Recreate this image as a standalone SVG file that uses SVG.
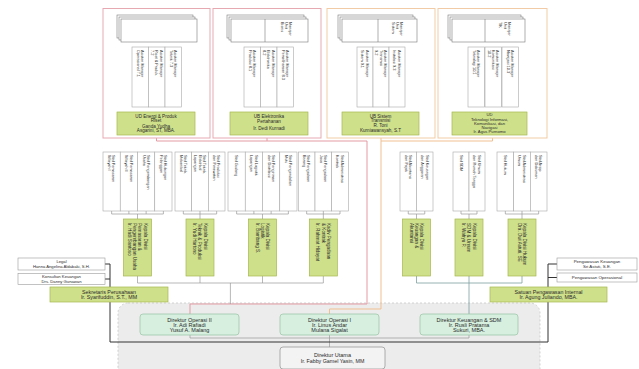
<svg xmlns="http://www.w3.org/2000/svg" width="639" height="369" viewBox="0 0 639 369">
<style>
text{font-family:"Liberation Sans",Arial,sans-serif;fill:#2a2a2a}
.h{text-anchor:middle}
.v{font-size:3.8px}
.vg{font-size:4.6px}
.pk{fill:#fff;stroke:#e7a9b1;stroke-width:1}
.pc{fill:#fff;stroke:#f1cba5;stroke-width:1}
.doc{fill:#fff;stroke:#7a7a7a;stroke-width:0.6}
.sb{fill:#fff;stroke:#a9a9a9;stroke-width:0.6}
.gb{fill:#cfe08a;stroke:#a3b84e;stroke-width:0.7}
.mb{fill:#d6efdf;stroke:#9fc8aa;stroke-width:0.8}
.ub{fill:#f3f3f3;stroke:#9a9a9a;stroke-width:0.8}
.st{fill:#fff;stroke:#9a9a9a;stroke-width:0.6}
.ln{fill:none;stroke:#9a9a9a;stroke-width:0.7}
.lt{fill:none;stroke:#7f9f9f;stroke-width:0.8}
.lp{fill:none;stroke:#e39aa3;stroke-width:1}
.lo{fill:none;stroke:#f0bf92;stroke-width:1}
.ld{fill:none;stroke:#333;stroke-width:1}
</style>
<rect id="area" x="118" y="303" width="422" height="80" rx="10" fill="#ececec" stroke="#c8c8c8" stroke-width="0.8" stroke-dasharray="2 2"/>
<g id="connectors">
<path class="lp" d="M156.5 138V141H367V304H190V314M267 138V141"/>
<path class="lo" d="M381 138V309H329.5V314M492.5 138V141H381"/>
<path class="ln" d="M157 42V44.5M140.25 44.5H173.25M140.25 44.5V47M156.75 44.5V47M173.25 44.5V47M140.25 107V109.5H173.25V107M156.75 109.5V112"/>
<path class="ln" d="M269.5 42V44.5M252.25 44.5H285.25M252.25 44.5V47M268.75 44.5V47M285.25 44.5V47M252.25 107V109.5H285.25V107M268.75 109.5V112"/>
<path class="ln" d="M379.5 42V44.5M365 44.5H397M365 44.5V47M381 44.5V47M397 44.5V47M365 107V109.5H397V107M381 109.5V112"/>
<path class="ln" d="M488.5 42V44.5M476.25 44.5H510.25M476.25 44.5V47M493.25 44.5V47M510.25 44.5V47M476.25 107V109.5H510.25V107M493.25 109.5V112"/>
<path class="ln" d="M111.63 211V214H163.38V211M128.88 211V214M146.13 211V214M137.5 214V219"/>
<path class="ln" d="M183.33 211V214H216.67V211M200 211V219"/>
<path class="ln" d="M236.63 211V214H288.38V211M253.88 211V214M271.13 211V214M262.5 214V219"/>
<path class="ln" d="M306.67 211V214H340V211M323.33 211V219"/>
<path class="ln" d="M408.25 211V214H424.75V211M416.5 214V219"/>
<path class="ln" d="M461 211V214H477V211M469 214V219"/>
<path class="ln" d="M505.33 211V214H538.67V211M522 211V219"/>
<path class="ln" d="M137.5 276V283H323.33V276M200 276V283M262.5 276V283M230.4 283V304"/>
<path class="lt" d="M416.5 276V283H522V276M469 276V314"/>
<path class="ln" d="M190 335V338H469V335M329.5 335V347"/>
<path class="ld" d="M105 264H110V342H548V264H557M105 279H110M548 277.5H557"/>
</g>
<g id="unit-energi">
<rect class="pk" x="103" y="8.5" width="107" height="129.5"/>
<rect class="doc" x="117" y="15" width="76" height="23"/><rect class="doc" x="119" y="17" width="76" height="23"/><rect class="doc" x="121" y="19" width="76" height="23"/>
<rect class="sb" x="132" y="47" width="16.5" height="60"/><rect class="sb" x="148.5" y="47" width="16.5" height="60"/><rect class="sb" x="165" y="47" width="16.5" height="60"/>
<text class="v" transform="translate(141.03,50) rotate(90)"><tspan x="0" y="0">Asisten Manajer</tspan><tspan x="0" y="4.3">Operasional 7.1</tspan></text>
<text class="v" transform="translate(159.68,50) rotate(90)"><tspan x="0" y="0">Asisten Manajer</tspan><tspan x="0" y="4.3">Riset &amp; Produk</tspan><tspan x="0" y="8.6">7.2</tspan></text>
<text class="v" transform="translate(174.03,50) rotate(90)"><tspan x="0" y="0">Asisten Manajer</tspan><tspan x="0" y="4.3">Teknik 7.3</tspan></text>
<rect class="gb" x="117" y="112" width="78" height="23"/>
<text class="h" font-size="4.6" x="156" y="117.8">UD Energi &amp; Produk</text>
<text class="h" font-size="4.6" x="156" y="122.3">Riset</text>
<text class="h" font-size="4.6" x="156" y="127.6">Ganda Yudha</text>
<text class="h" font-size="4.6" x="156" y="132.1">Asgarini, ST, MBA.</text>
</g>
<g id="unit-elektronika">
<rect class="pk" x="213" y="8.5" width="108" height="129.5"/>
<rect class="doc" x="227" y="15" width="77" height="23"/><rect class="doc" x="229" y="17" width="77" height="23"/><rect class="doc" x="231" y="19" width="77" height="23"/>
<line class="doc" x1="265" y1="19" x2="265" y2="42"/>
<text class="v" transform="translate(289.43,22) rotate(90)"><tspan x="0" y="0">Manajer</tspan><tspan x="0" y="4.3">Unit</tspan><tspan x="0" y="8.6">Bisnis</tspan></text>
<rect class="sb" x="244" y="47" width="16.5" height="60"/><rect class="sb" x="260.5" y="47" width="16.5" height="60"/><rect class="sb" x="277" y="47" width="16.5" height="60"/>
<text class="v" transform="translate(253.03,50) rotate(90)"><tspan x="0" y="0">Asisten Manajer</tspan><tspan x="0" y="4.3">Produksi 8.1</tspan></text>
<text class="v" transform="translate(271.68,50) rotate(90)"><tspan x="0" y="0">Asisten Manajer</tspan><tspan x="0" y="4.3">Elektronika</tspan><tspan x="0" y="8.6">8.2</tspan></text>
<text class="v" transform="translate(286.03,50) rotate(90)"><tspan x="0" y="0">Asisten Manajer</tspan><tspan x="0" y="4.3">Pemeliharaan 8.3</tspan></text>
<rect class="gb" x="230" y="112" width="78" height="23"/>
<text class="h" font-size="4.6" x="269" y="118.3">UB Elektronika</text>
<text class="h" font-size="4.6" x="269" y="122.8">Pertahanan</text>
<text class="h" font-size="4.6" x="269" y="130.3">Ir. Dedi Kurnadi</text>
</g>
<g id="unit-sistem">
<rect class="pc" x="327" y="8.5" width="108" height="129.5"/>
<rect class="doc" x="338" y="15" width="75" height="23"/><rect class="doc" x="340" y="17" width="75" height="23"/><rect class="doc" x="342" y="19" width="75" height="23"/>
<line class="doc" x1="378" y1="19" x2="378" y2="42"/>
<text class="v" transform="translate(400.43,22) rotate(90)"><tspan x="0" y="0">Manajer</tspan><tspan x="0" y="4.3">Unit</tspan><tspan x="0" y="8.6">Sistem</tspan></text>
<rect class="sb" x="357" y="47" width="16" height="60"/><rect class="sb" x="373" y="47" width="16" height="60"/><rect class="sb" x="389" y="47" width="16" height="60"/>
<text class="v" transform="translate(365.78,50) rotate(90)"><tspan x="0" y="0">Asisten Manajer</tspan><tspan x="0" y="4.3">Sistem 9.1</tspan></text>
<text class="v" transform="translate(383.93,50) rotate(90)"><tspan x="0" y="0">Asisten Manajer</tspan><tspan x="0" y="4.3">Transmisi</tspan><tspan x="0" y="8.6">9.2</tspan></text>
<text class="v" transform="translate(397.78,50) rotate(90)"><tspan x="0" y="0">Asisten Manajer</tspan><tspan x="0" y="4.3">Instalasi 9.3</tspan></text>
<rect class="gb" x="342" y="112" width="77" height="23"/>
<text class="h" font-size="4.6" x="380.5" y="117.6">UB Sistem</text>
<text class="h" font-size="4.6" x="380.5" y="122.1">Transmisi</text>
<text class="h" font-size="4.6" x="380.5" y="127.4">R. Toni</text>
<text class="h" font-size="4.6" x="380.5" y="131.9">Kurniawansyah, S.T</text>
</g>
<g id="unit-teknologi">
<rect class="pc" x="438" y="8.5" width="109" height="129.5"/>
<rect class="doc" x="448" y="15" width="73" height="23"/><rect class="doc" x="450" y="17" width="73" height="23"/><rect class="doc" x="452" y="19" width="73" height="23"/>
<line class="doc" x1="485" y1="19" x2="485" y2="42"/>
<text class="v" transform="translate(507.93,22) rotate(90)"><tspan x="0" y="0">Manajer</tspan><tspan x="0" y="4.3">Unit</tspan><tspan x="0" y="8.6">TIK</tspan></text>
<rect class="sb" x="468" y="47" width="16.5" height="60"/><rect class="sb" x="485" y="47" width="16.5" height="60"/><rect class="sb" x="502" y="47" width="16.5" height="60"/>
<text class="v" transform="translate(477.03,50) rotate(90)"><tspan x="0" y="0">Asisten Manajer</tspan><tspan x="0" y="4.3">Teknologi 10.1</tspan></text>
<text class="v" transform="translate(496.18,50) rotate(90)"><tspan x="0" y="0">Asisten Manajer</tspan><tspan x="0" y="4.3">Komunikasi</tspan><tspan x="0" y="8.6">10.2</tspan></text>
<text class="v" transform="translate(511.03,50) rotate(90)"><tspan x="0" y="0">Asisten Manajer</tspan><tspan x="0" y="4.3">Navigasi 10.3</tspan></text>
<rect class="gb" x="452" y="112" width="75" height="23"/>
<text class="h" font-size="4.2" x="489.5" y="116.4">UD</text>
<text class="h" font-size="4.2" x="489.5" y="120.5">Teknologi Informasi,</text>
<text class="h" font-size="4.2" x="489.5" y="124.6">Komunikasi, dan</text>
<text class="h" font-size="4.2" x="489.5" y="128.7">Navigasi</text>
<text class="h" font-size="4.2" x="489.5" y="133.2">Ir. Agus Purnomo</text>
</g>
<g id="divisi-pemasaran">
<rect class="sb" x="103" y="152" width="17.25" height="59"/><rect class="sb" x="120.25" y="152" width="17.25" height="59"/><rect class="sb" x="137.5" y="152" width="17.25" height="59"/><rect class="sb" x="154.75" y="152" width="17.25" height="59"/>
<text class="v" transform="translate(112.41,155) rotate(90)"><tspan x="0" y="0">Staf Pemasaran</tspan><tspan x="0" y="4.3">Wilayah I</tspan></text>
<text class="v" transform="translate(129.66,155) rotate(90)"><tspan x="0" y="0">Staf Pemasaran</tspan><tspan x="0" y="4.3">Wilayah II</tspan></text>
<text class="v" transform="translate(146.91,155) rotate(90)"><tspan x="0" y="0">Staf Pengembangan</tspan><tspan x="0" y="4.3">Usaha</tspan></text>
<text class="v" transform="translate(164.16,155) rotate(90)"><tspan x="0" y="0">Staf Hubungan</tspan><tspan x="0" y="4.3">Pelanggan</tspan></text>
<rect class="gb" x="123.5" y="219" width="28" height="57"/>
<text class="vg" transform="translate(143.65,223) rotate(90)"><tspan x="0" y="0">Kepala Divisi</tspan><tspan x="0" y="5.2">Pemasaran &amp;</tspan><tspan x="0" y="10.4">Pengembangan Usaha</tspan><tspan x="0" y="15.6">Ir. Hadi Santoso</tspan></text>
</g>
<g id="divisi-teknik">
<rect class="sb" x="175" y="152" width="16.67" height="59"/><rect class="sb" x="191.67" y="152" width="16.67" height="59"/><rect class="sb" x="208.33" y="152" width="16.67" height="59"/>
<text class="v" transform="translate(184.11,155) rotate(90)"><tspan x="0" y="0">Staf Teknik</tspan><tspan x="0" y="4.3">Mekanikal</tspan></text>
<text class="v" transform="translate(202.93,155) rotate(90)"><tspan x="0" y="0">Staf Teknik</tspan><tspan x="0" y="4.3">Elektrikal</tspan><tspan x="0" y="8.6">Lapangan</tspan></text>
<text class="v" transform="translate(217.45,155) rotate(90)"><tspan x="0" y="0">Staf Produksi</tspan><tspan x="0" y="4.3">dan Perawatan</tspan></text>
<rect class="gb" x="186" y="219" width="28" height="57"/>
<text class="vg" transform="translate(203.55,223) rotate(90)"><tspan x="0" y="0">Kepala Divisi</tspan><tspan x="0" y="5.2">Teknik &amp; Produksi</tspan><tspan x="0" y="10.4">Ir. Yudi Hartono</tspan></text>
</g>
<g id="divisi-logistik">
<rect class="sb" x="228" y="152" width="17.25" height="59"/><rect class="sb" x="245.25" y="152" width="17.25" height="59"/><rect class="sb" x="262.5" y="152" width="17.25" height="59"/><rect class="sb" x="279.75" y="152" width="17.25" height="59"/>
<text class="v" transform="translate(235.26,155) rotate(90)"><tspan x="0" y="0">Staf Gudang</tspan></text>
<text class="v" transform="translate(254.66,155) rotate(90)"><tspan x="0" y="0">Staf Logistik</tspan><tspan x="0" y="4.3">Lapangan</tspan></text>
<text class="v" transform="translate(271.91,155) rotate(90)"><tspan x="0" y="0">Staf Pengiriman</tspan><tspan x="0" y="4.3">dan Distribusi</tspan></text>
<text class="v" transform="translate(289.16,155) rotate(90)"><tspan x="0" y="0">Staf Pengendalian</tspan><tspan x="0" y="4.3">Mutu</tspan></text>
<rect class="gb" x="248.5" y="219" width="28" height="57"/>
<text class="vg" transform="translate(266.05,223) rotate(90)"><tspan x="0" y="0">Kepala Divisi</tspan><tspan x="0" y="5.2">Logistik</tspan><tspan x="0" y="10.4">Ir. Bambang S.</tspan></text>
</g>
<g id="divisi-pengadaan">
<rect class="sb" x="298.33" y="152" width="16.67" height="59"/><rect class="sb" x="315" y="152" width="16.67" height="59"/><rect class="sb" x="331.67" y="152" width="16.67" height="59"/>
<text class="v" transform="translate(307.45,155) rotate(90)"><tspan x="0" y="0">Staf Pengadaan</tspan><tspan x="0" y="4.3">Barang</tspan></text>
<text class="v" transform="translate(324.11,155) rotate(90)"><tspan x="0" y="0">Staf Pengadaan</tspan><tspan x="0" y="4.3">Jasa</tspan></text>
<text class="v" transform="translate(340.78,155) rotate(90)"><tspan x="0" y="0">Staf Administrasi</tspan><tspan x="0" y="4.3">Kontrak</tspan></text>
<rect class="gb" x="309.33" y="219" width="28" height="57"/>
<text class="vg" transform="translate(326.88,223) rotate(90)"><tspan x="0" y="0">Kadiv Pengadaan</tspan><tspan x="0" y="5.2">&amp; Kontrak</tspan><tspan x="0" y="10.4">Ir. Rahmat Hidayat</tspan></text>
</g>
<g id="divisi-keuangan">
<rect class="sb" x="400" y="152" width="16.5" height="59"/><rect class="sb" x="416.5" y="152" width="16.5" height="59"/>
<text class="v" transform="translate(409.03,155) rotate(90)"><tspan x="0" y="0">Staf Akuntansi</tspan><tspan x="0" y="4.3">dan Pajak</tspan></text>
<text class="v" transform="translate(425.53,155) rotate(90)"><tspan x="0" y="0">Staf Keuangan</tspan><tspan x="0" y="4.3">dan Anggaran</tspan></text>
<rect class="gb" x="402.5" y="219" width="28" height="57"/>
<text class="vg" transform="translate(420.05,223) rotate(90)"><tspan x="0" y="0">Kepala Divisi</tspan><tspan x="0" y="5.2">Keuangan &amp;</tspan><tspan x="0" y="10.4">Akuntansi</tspan></text>
</g>
<g id="divisi-sdm">
<rect class="sb" x="453" y="152" width="16" height="59"/><rect class="sb" x="469" y="152" width="16" height="59"/>
<text class="v" transform="translate(459.63,155) rotate(90)"><tspan x="0" y="0">Staf SDM</tspan></text>
<text class="v" transform="translate(477.78,155) rotate(90)"><tspan x="0" y="0">Staf Umum</tspan><tspan x="0" y="4.3">dan Rumah Tangga</tspan></text>
<rect class="gb" x="455" y="219" width="28" height="57"/>
<text class="vg" transform="translate(472.55,223) rotate(90)"><tspan x="0" y="0">Kepala Divisi</tspan><tspan x="0" y="5.2">SDM &amp; Umum</tspan><tspan x="0" y="10.4">Ir. Wahyu P.</tspan></text>
</g>
<g id="divisi-hukum">
<rect class="sb" x="497" y="152" width="16.67" height="59"/><rect class="sb" x="513.67" y="152" width="16.67" height="59"/><rect class="sb" x="530.33" y="152" width="16.67" height="59"/>
<text class="v" transform="translate(503.96,155) rotate(90)"><tspan x="0" y="0">Staf Hukum</tspan></text>
<text class="v" transform="translate(522.78,155) rotate(90)"><tspan x="0" y="0">Staf Administrasi</tspan><tspan x="0" y="4.3">Umum</tspan></text>
<text class="v" transform="translate(539.45,155) rotate(90)"><tspan x="0" y="0">Staf Arsip</tspan><tspan x="0" y="4.3">dan Dokumen</tspan></text>
<rect class="gb" x="508" y="219" width="28" height="57"/>
<text class="vg" transform="translate(522.95,223) rotate(90)"><tspan x="0" y="0">Kepala Divisi Hukum</tspan><tspan x="0" y="5.2">Dra. Dwi Astuti, SE</tspan></text>
</g>
<g id="legal">
<rect class="st" x="18" y="258" width="87" height="12"/>
<text class="h" font-size="4.2" x="61.5" y="262.9">Legal</text>
<text class="h" font-size="4.2" x="61.5" y="267.9">Hanna Angelina Aldabaki, S.H.</text>
</g>
<g id="konsultan">
<rect class="st" x="18" y="273.5" width="87" height="11"/>
<text class="h" font-size="4.2" x="61.5" y="278.1">Konsultan Keuangan</text>
<text class="h" font-size="4.2" x="61.5" y="282.8">Drs. Danny Gunawan</text>
</g>
<g id="sekretaris">
<rect class="gb" x="50" y="287" width="118" height="15"/>
<text class="h" font-size="5.3" x="109" y="293.6">Sekretaris Perusahaan</text>
<text class="h" font-size="5.3" x="109" y="299">Ir. Syarifuddin, S.T., MM</text>
</g>
<g id="pengawasan-keuangan">
<rect class="st" x="557" y="258" width="80" height="12"/>
<text class="h" font-size="4.4" x="597" y="262.9">Pengawasan Keuangan</text>
<text class="h" font-size="4.4" x="597" y="267.9">Sri Astuti, S.E.</text>
</g>
<g id="pengawasan-operasional">
<rect class="st" x="557" y="273" width="80" height="9"/>
<text class="h" font-size="4.4" x="597" y="279">Pengawasan Operasional</text>
</g>
<g id="spi">
<rect class="gb" x="490" y="287" width="117" height="15"/>
<text class="h" font-size="5.3" x="548.5" y="293.6">Satuan Pengawasan Internal</text>
<text class="h" font-size="5.3" x="548.5" y="299">Ir. Agung Juliando, MBA.</text>
</g>
<g id="dir-operasi-2">
<rect class="mb" x="140" y="314" width="99" height="21" rx="3"/>
<text class="h" font-size="5.5" x="189.5" y="322">Direktur Operasi II</text>
<text class="h" font-size="5.5" x="189.5" y="326.8">Ir. Adi Rafiadi</text>
<text class="h" font-size="5.5" x="189.5" y="331.6">Yusuf A. Malang</text>
</g>
<g id="dir-operasi-1">
<rect class="mb" x="280" y="314" width="99" height="21" rx="3"/>
<text class="h" font-size="5.5" x="329.5" y="322">Direktur Operasi I</text>
<text class="h" font-size="5.5" x="329.5" y="326.8">Ir. Linus Andar</text>
<text class="h" font-size="5.5" x="329.5" y="331.6">Mulana Sigalat</text>
</g>
<g id="dir-keuangan">
<rect class="mb" x="420" y="314" width="98" height="21" rx="3"/>
<text class="h" font-size="5.5" x="469" y="322">Direktur Keuangan &amp; SDM</text>
<text class="h" font-size="5.5" x="469" y="326.8">Ir. Rusli Pratama</text>
<text class="h" font-size="5.5" x="469" y="331.6">Sukuri, MBA.</text>
</g>
<g id="dir-utama">
<rect class="ub" x="280" y="347" width="105" height="22" rx="3"/>
<text class="h" font-size="5.5" x="332.5" y="357">Direktur Utama</text>
<text class="h" font-size="5.3" x="332.5" y="362.6">Ir. Fabby Gamel Yasin, MM</text>
</g>
</svg>
